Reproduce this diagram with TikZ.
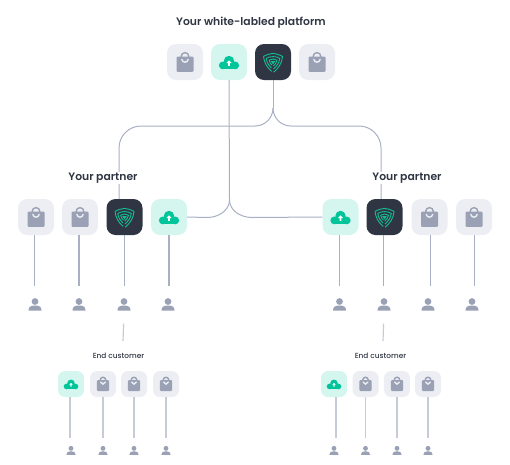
\documentclass[tikz,border=0pt]{standalone}
\usepackage{fontspec}
\setmainfont{Poppins}
\newfontfamily\semibold{Poppins SemiBold}
\newfontfamily\medium{Poppins Medium}
\definecolor{inkdark}{HTML}{2F3542}
\definecolor{linkgray}{HTML}{A9B0C4}
\definecolor{linklight}{HTML}{C6CBD7}
\definecolor{baggray}{HTML}{9AA1B5}
\definecolor{shopbg}{HTML}{EDEEF3}
\definecolor{cloudbg}{HTML}{D5F6EE}
\definecolor{mint}{HTML}{00C49A}
\definecolor{shieldline}{HTML}{12BE94}
\tikzset{
  shopicon/.pic={
    \draw[baggray,line width=1.4pt] (0,-5.6) circle (3.8);
    \fill[baggray,rounded corners=1pt] (-8.5,-5.4) rectangle (8.5,9.8);
    \draw[shopbg,line width=1.4pt,line cap=round] (-3.2,-2.6) .. controls (-2.6,1) and (2.6,1) .. (3.2,-2.6);
  },
  cloudicon/.pic={
    \fill[mint] (0,-1) circle (5.2) (-6.2,3.4) circle (3.9) (6.2,3.4) circle (3.9);
    \fill[mint] (-6.2,-0.5) rectangle (6.2,7.3);
    \fill[white] (0,-1.6) -- (2.5,1) -- (0.8,1) -- (0.8,3.8) -- (-0.8,3.8) -- (-0.8,1) -- (-2.5,1) -- cycle;
  },
  shieldicon/.pic={
    \begin{scope}[shieldline,line width=0.9pt]
      % outer guard
      \draw (-9.5,-5.6) .. controls (-6,-7.4) and (-3,-8.4) .. (0,-8.6) .. controls (3,-8.4) and (6,-7.4) .. (9.5,-5.6) .. controls (9.2,1) and (5,7) .. (0.6,10.2);
      \draw (-9.5,-5.6) .. controls (-9,0) and (-6,6) .. (-1.2,9.4);
      % inner turns
      \draw (-6.8,-3.6) .. controls (-3,-6) and (3,-6) .. (6.8,-3.6) .. controls (6.2,0.6) and (3.6,4.6) .. (0.4,7);
      \draw (-6.8,-3.6) .. controls (-6,1) and (-4,4) .. (-1.6,6);
      \draw (-3.9,-1.8) .. controls (-1.6,-3.4) and (1.8,-3.4) .. (4,-1.8) .. controls (3.5,0.6) and (2,2.8) .. (0.2,4);
      \draw (-3.9,-1.8) .. controls (-3.4,0.6) and (-2.2,2.2) .. (-1,3.2);
      \draw (-1.4,-0.4) -- (1.4,-0.4) -- (0,1.6) -- cycle;
    \end{scope}
  },
  usericon/.pic={
    \fill[baggray] (0,-3) circle (3.4);
    \fill[baggray] (-6.5,6.2) .. controls (-6.8,2) and (-3.6,1) .. (0,1) .. controls (3.6,1) and (6.8,2) .. (6.5,6.2) -- cycle;
  },
  bigbox/.style={inner sep=0pt,minimum size=36pt,rounded corners=9pt,path picture={\pic[sharp corners] at (path picture bounding box.center) {#1};}},
  smallbox/.style={inner sep=0pt,minimum size=26pt,rounded corners=7pt,path picture={\pic[sharp corners,scale=0.72] at (path picture bounding box.center) {#1};}},
  bigperson/.style={inner sep=0pt,minimum size=14pt,path picture={\pic at (path picture bounding box.center) {usericon};}},
  smallperson/.style={inner sep=0pt,minimum size=11pt,path picture={\pic[scale=0.72] at (path picture bounding box.center) {usericon};}},
  link/.style={linkgray,line width=1pt},
  droplink/.style={linkgray,line width=1.2pt,shorten >=11pt},
  lowlink/.style={linklight,line width=1.2pt,shorten >=7pt},
  heading/.style={inkdark,font=\fontsize{10.8}{13}\selectfont\semibold,inner sep=1pt},
  subheading/.style={inkdark,font=\fontsize{7.4}{9}\selectfont\medium,inner sep=1pt},
}
\begin{document}
\begin{tikzpicture}[x=1pt,y=-1pt]
\useasboundingbox (0,0) rectangle (510,464);
% platform row
\node[bigbox=shopicon,fill=shopbg] (top1) at (185,62) {};
\node[bigbox=cloudicon,fill=cloudbg] (top2) at (229,62) {};
\node[bigbox=shieldicon,fill=inkdark] (top3) at (273,62) {};
\node[bigbox=shopicon,fill=shopbg] (top4) at (317,62) {};
% left partner row
\node[bigbox=shopicon,fill=shopbg] (lp1) at (36,217) {};
\node[bigbox=shopicon,fill=shopbg] (lp2) at (80,217) {};
\node[bigbox=shieldicon,fill=inkdark] (lp3) at (124.5,217) {};
\node[bigbox=cloudicon,fill=cloudbg] (lp4) at (169,217) {};
% right partner row
\node[bigbox=cloudicon,fill=cloudbg] (rp1) at (340.5,217) {};
\node[bigbox=shieldicon,fill=inkdark] (rp2) at (384.5,217) {};
\node[bigbox=shopicon,fill=shopbg] (rp3) at (429.5,217) {};
\node[bigbox=shopicon,fill=shopbg] (rp4) at (474,217) {};
% partner users
\node[bigperson] (lu1) at (35,304.5) {};
\node[bigperson] (lu2) at (79,304.5) {};
\node[bigperson] (lu3) at (124,304.5) {};
\node[bigperson] (lu4) at (168,304.5) {};
\node[bigperson] (ru1) at (339.5,304.5) {};
\node[bigperson] (ru2) at (384,304.5) {};
\node[bigperson] (ru3) at (428,304.5) {};
\node[bigperson] (ru4) at (472,304.5) {};
% end customer rows
\node[smallbox=cloudicon,fill=cloudbg] (lc1) at (71,384) {};
\node[smallbox=shopicon,fill=shopbg] (lc2) at (103,384) {};
\node[smallbox=shopicon,fill=shopbg] (lc3) at (134,384) {};
\node[smallbox=shopicon,fill=shopbg] (lc4) at (166,384) {};
\node[smallbox=cloudicon,fill=cloudbg] (rc1) at (334,384) {};
\node[smallbox=shopicon,fill=shopbg] (rc2) at (365.5,384) {};
\node[smallbox=shopicon,fill=shopbg] (rc3) at (397,384) {};
\node[smallbox=shopicon,fill=shopbg] (rc4) at (428,384) {};
\node[smallperson] (lv1) at (71,450.5) {};
\node[smallperson] (lv2) at (103,450.5) {};
\node[smallperson] (lv3) at (134,450.5) {};
\node[smallperson] (lv4) at (166,450.5) {};
\node[smallperson] (rv1) at (334,450.5) {};
\node[smallperson] (rv2) at (365.5,450.5) {};
\node[smallperson] (rv3) at (397,450.5) {};
\node[smallperson] (rv4) at (428,450.5) {};
% junctions
\coordinate (cloudjoin) at (229.5,200);
\coordinate (shieldjoin) at (273,108);
\coordinate (lshoulder) at (255,126);
\coordinate (rshoulder) at (291,126);
\coordinate (lcustomer) at (123,341);
\coordinate (rcustomer) at (383,341);
% platform wiring
\draw[link] (top2.south) -- (cloudjoin);
\draw[link] (cloudjoin) .. controls (229.5,210) and (219,217.5) .. (207,217.5) -- (lp4.east);
\draw[link] (cloudjoin) .. controls (229.5,210) and (240,217.5) .. (252,217.5) -- (rp1.west);
\draw[link] (top3.south) -- (shieldjoin);
\draw[link] (shieldjoin) .. controls (273,118) and (265,126) .. (lshoulder);
\draw[link] (shieldjoin) .. controls (273,118) and (281,126) .. (rshoulder);
\draw[link,rounded corners=22pt] (lshoulder) -- (119,126) -- ([xshift=-5.5pt]lp3.north);
\draw[link,rounded corners=22pt] (rshoulder) -- (381,126) -- ([xshift=-3.5pt]rp2.north);
% partner drops
\draw[droplink] ([xshift=-1.5pt]lp1.south) -- ([xshift=-0.5pt]lu1.north);
\draw[droplink] ([xshift=-1pt]lp2.south) -- (lu2.north);
\draw[droplink] (lp3.south) -- ([xshift=0.5pt]lu3.north);
\draw[droplink] (lp4.south) -- ([xshift=1pt]lu4.north);
\draw[droplink] ([xshift=-1pt]rp1.south) -- (ru1.north);
\draw[droplink] ([xshift=-1pt]rp2.south) -- ([xshift=-0.5pt]ru2.north);
\draw[droplink] ([xshift=1pt]rp3.south) -- ([xshift=2.5pt]ru3.north);
\draw[droplink] ([xshift=0.5pt]rp4.south) -- ([xshift=2.5pt]ru4.north);
\draw[lowlink,shorten >=0pt,shorten <=12pt] (lu3.south) -- (lcustomer);
\draw[lowlink,shorten >=0pt,shorten <=12pt] (ru2.south) -- (rcustomer);
% customer drops
\draw[lowlink] ([xshift=-1pt]lc1.south) -- ([xshift=-1pt]lv1.north);
\draw[lowlink] (lc2.south) -- (lv2.north);
\draw[lowlink] (lc3.south) -- (lv3.north);
\draw[lowlink] (lc4.south) -- (lv4.north);
\draw[lowlink] ([xshift=2pt]rc1.south) -- ([xshift=2pt]rv1.north);
\draw[lowlink] (rc2.south) -- (rv2.north);
\draw[lowlink] (rc3.south) -- (rv3.north);
\draw[lowlink] (rc4.south) -- (rv4.north);
% labels
\node[heading] (platformlabel) at (251,22.2) {Your white-labled platform};
\node[heading,fill=white] (lpartner) at (103,178) {Your partner};
\node[heading,fill=white] (rpartner) at (407,178) {Your partner};
\node[subheading] (lendlabel) at (118.5,355.5) {End customer};
\node[subheading] (rendlabel) at (380.5,355.5) {End customer};
\end{tikzpicture}
\end{document}
